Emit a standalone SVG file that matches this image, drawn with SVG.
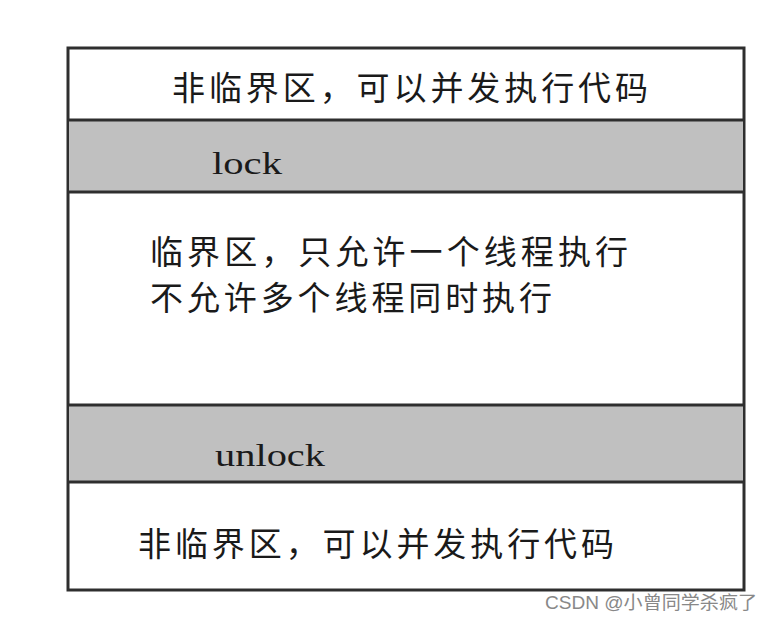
<svg xmlns="http://www.w3.org/2000/svg" width="769" height="622" viewBox="0 0 769 622">
<style>
.cjk{font-family:"Noto Sans CJK SC","Noto Sans",sans-serif;font-size:33px;fill:#1a1a1a}
.mono{font-family:"Liberation Serif","DejaVu Serif",serif;font-size:31px;fill:#1a1a1a}
.band{fill:#c0c0c0}
.line{stroke:#2e2e2e;stroke-width:3;fill:none}
.wm{font-family:"Liberation Sans","Noto Sans CJK SC",sans-serif;font-size:18px;fill:#888}
</style>
<rect width="769" height="622" fill="#fff"/>
<g id="frame">
<rect x="68" y="48" width="676" height="542" fill="#fff" class="line"/>
</g>
<g id="top-section">
<text class="cjk" x="172" y="100" textLength="476" lengthAdjust="spacing">非临界区，可以并发执行代码</text>
</g>
<g id="lock">
<rect class="band" x="69" y="120" width="674" height="72"/>
<line class="line" x1="68" y1="120" x2="744" y2="120"/>
<line class="line" x1="68" y1="192" x2="744" y2="192"/>
<text class="mono" x="212" y="174" textLength="70" lengthAdjust="spacingAndGlyphs">lock</text>
</g>
<g id="critical">
<text class="cjk" x="150" y="264" textLength="478" lengthAdjust="spacing">临界区，只允许一个线程执行</text>
<text class="cjk" x="150" y="310" textLength="402" lengthAdjust="spacing">不允许多个线程同时执行</text>
</g>
<g id="unlock">
<rect class="band" x="69" y="405" width="674" height="77"/>
<line class="line" x1="68" y1="405" x2="744" y2="405"/>
<line class="line" x1="68" y1="482" x2="744" y2="482"/>
<text class="mono" x="215" y="466" textLength="110" lengthAdjust="spacingAndGlyphs">unlock</text>
</g>
<g id="bottom-section">
<text class="cjk" x="138" y="556" textLength="476" lengthAdjust="spacing">非临界区，可以并发执行代码</text>
</g>
<g id="connectors"></g>
<text class="wm" x="545" y="609" textLength="212" lengthAdjust="spacingAndGlyphs">CSDN @小曾同学杀疯了</text>
</svg>
